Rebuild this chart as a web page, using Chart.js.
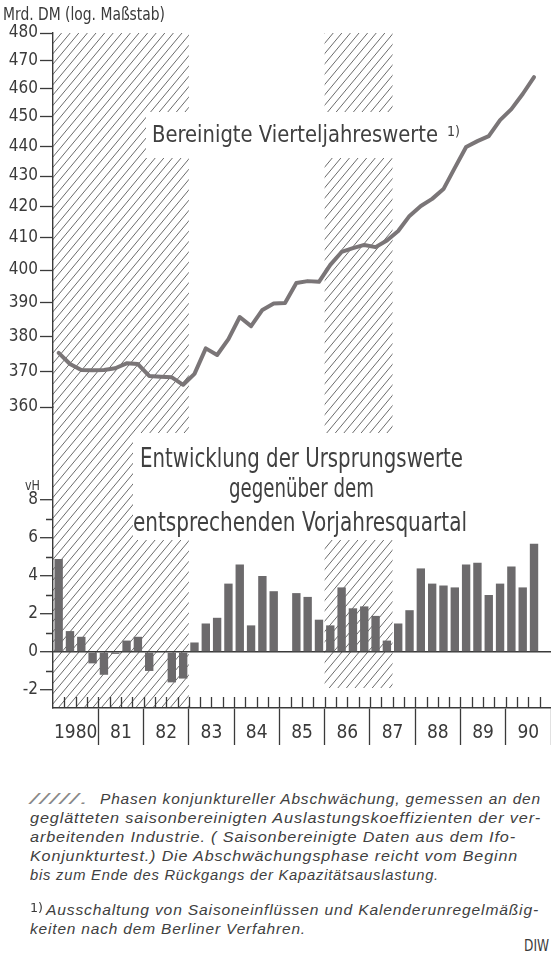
<!DOCTYPE html>
<html>
<head>
<meta charset="utf-8">
<script src="https://cdn.jsdelivr.net/npm/chart.js@4.4.1/dist/chart.umd.min.js"></script>
<style>
  html, body { margin: 0; padding: 0; background: #fff; }
  body { width: 551px; height: 956px; position: relative; overflow: hidden; color: #3a3a3a;
         font-family: "DejaVu Sans Condensed", "Liberation Sans Narrow", "Liberation Sans", sans-serif; }
  #wrap { position: absolute; left: 0; top: 0; width: 551px; height: 760px; }
  .t { position: absolute; white-space: nowrap; line-height: 1; transform-origin: 0 0; }
  .note { font-family: "Liberation Sans", sans-serif; font-style: italic; font-size: 15px; letter-spacing: 0.8px; color: #404040; }
</style>
</head>
<body>
<div id="wrap"><canvas id="chart" width="551" height="760"></canvas></div>

<div class="t" style="font-size:17px" data-x="3" data-b="20" data-w="162">Mrd. DM (log. Maßstab)</div>
<div class="t" style="font-size:14px" data-x="25" data-b="490" data-w="15">vH</div>

<div class="t note" style="color:#888" data-x="30" data-b="804" data-w="60">/////.</div>
<div class="t note" data-x="100" data-b="804" data-w="441">Phasen konjunktureller Abschwächung, gemessen an den</div>
<div class="t note" data-x="30" data-b="823" data-w="511">geglätteten saisonbereinigten Auslastungskoeffizienten der ver-</div>
<div class="t note" data-x="30" data-b="842" data-w="486">arbeitenden Industrie. ( Saisonbereinigte Daten aus dem Ifo-</div>
<div class="t note" data-x="30" data-b="861" data-w="488">Konjunkturtest.) Die Abschwächungsphase reicht vom Beginn</div>
<div class="t note" data-x="30" data-b="880" data-w="409">bis zum Ende des Rückgangs der Kapazitätsauslastung.</div>
<div class="t" style="font-size:13px" data-x="30" data-b="912" data-w="13">1)</div>
<div class="t note" data-x="46" data-b="915" data-w="493">Ausschaltung von Saisoneinflüssen und Kalenderunregelmäßig-</div>
<div class="t note" data-x="30" data-b="934" data-w="276">keiten nach dem Berliner Verfahren.</div>
<div class="t" style="font-size:16px" data-x="524" data-b="952" data-w="25">DIW</div>

<script>
// Jahre und Quartale
const years = ['1980', '81', '82', '83', '84', '85', '86', '87', '88', '89', '90'];
const quarterNames = ['I', 'II', 'III', 'IV'];

// Bereinigte Vierteljahreswerte, Mrd. DM (1980 I - 1990 III)
const gdpValues = [
  375.3, 372.1, 370.4, 370.3,
  370.4, 370.9, 372.3, 372.1,
  368.7, 368.5, 368.3, 366.2,
  369.3, 376.6, 374.7, 379.3,
  385.8, 383.1, 387.9, 389.8,
  390.0, 396.0, 396.6, 396.4,
  401.6, 405.6, 406.8, 407.8,
  407.1, 409.2, 412.2, 417.0,
  420.2, 422.5, 425.7, 432.7,
  439.7, 441.7, 443.4, 448.9,
  452.7, 458.0, 464.0
];

// Veraenderung gegenueber Vorjahresquartal, vH
const changeValues = [
  4.9, 1.1, 0.8, -0.6,
  -1.2, -0.1, 0.6, 0.8,
  -1.0, 0, -1.6, -1.4,
  0.5, 1.5, 1.8, 3.6,
  4.6, 1.4, 4.0, 3.2,
  0, 3.1, 2.9, 1.7,
  1.4, 3.4, 2.3, 2.4,
  1.9, 0.6, 1.5, 2.2,
  4.4, 3.6, 3.5, 3.4,
  4.6, 4.7, 3.0, 3.6,
  4.5, 3.4, 5.7
];

// Achsenbeschriftung
const logTicks = [360, 370, 380, 390, 400, 410, 420, 430, 440, 450, 460, 470, 480];
const pctTicks = [-2, 0, 2, 4, 6, 8];
const pctMinorTicks = [-1, 1, 3, 5, 7];

// Phasen konjunktureller Abschwaechung (erstes bis letztes Quartal)
const weakPhases = [['1980 I', '1982 IV'], ['1986 I', '1987 II']];

const labels = [];
years.forEach(y => quarterNames.forEach(q => labels.push((y.length === 2 ? '19' + y : y) + ' ' + q)));

const FONT = '"DejaVu Sans Condensed", "Liberation Sans Narrow", "Liberation Sans", sans-serif';
const INK = '#3a3a3a';

function fitText(ctx, str, x, y, size, width) {
  ctx.font = size + 'px ' + FONT;
  const w = ctx.measureText(str).width;
  ctx.save();
  ctx.translate(x, y);
  ctx.scale(width / w, 1);
  ctx.fillText(str, 0, 0);
  ctx.restore();
}

const decor = {
  id: 'decor',
  beforeDraw(chart) {
    const { ctx, chartArea: a, scales: { x, yb } } = chart;
    const half = (x.getPixelForValue(1) - x.getPixelForValue(0)) / 2;

    // schraffierte Phasen
    weakPhases.forEach((p, k) => {
      const l = x.getPixelForValue(labels.indexOf(p[0])) - half;
      const r = x.getPixelForValue(labels.indexOf(p[1])) + half;
      const b = k === 0 ? a.bottom : yb.getPixelForValue(-1.9);
      const run = (b - a.top) / 1.2;
      ctx.save();
      ctx.beginPath();
      ctx.rect(l, a.top, r - l, b - a.top);
      ctx.clip();
      ctx.strokeStyle = '#5a5a5a';
      ctx.lineWidth = 0.9;
      ctx.beginPath();
      for (let sx = l - run; sx < r + 2; sx += 8.6) {
        ctx.moveTo(sx, b);
        ctx.lineTo(sx + run, a.top);
      }
      ctx.stroke();
      ctx.restore();
    });

    // Textfelder
    ctx.fillStyle = '#fff';
    ctx.fillRect(146, 112, 322, 46);
    ctx.fillRect(133, 433, 338, 107);

    ctx.fillStyle = '#404040';
    ctx.textBaseline = 'alphabetic';
    fitText(ctx, 'Bereinigte Vierteljahreswerte', 152, 142, 23, 286);
    fitText(ctx, '1)', 447, 136, 14, 13);
    fitText(ctx, 'Entwicklung der Ursprungswerte', 140, 467, 26, 323);
    fitText(ctx, 'gegenüber dem', 229, 497, 26, 145);
    fitText(ctx, 'entsprechenden Vorjahresquartal', 133, 531, 26, 334);
  },
  afterDraw(chart) {
    const { ctx, chartArea: a, scales: { x, yb } } = chart;
    const half = (x.getPixelForValue(1) - x.getPixelForValue(0)) / 2;
    ctx.save();
    ctx.strokeStyle = INK;
    ctx.lineWidth = 1.3;
    ctx.beginPath();
    // kurze Quartalsstriche
    for (let i = 1; i < labels.length; i++) {
      const px = Math.round(x.getPixelForValue(i) - half) + 0.5;
      ctx.moveTo(px, a.bottom - 11);
      ctx.lineTo(px, a.bottom);
    }
    // Zwischenstriche der vH-Achse
    pctMinorTicks.forEach(v => {
      const py = Math.round(yb.getPixelForValue(v)) + 0.5;
      ctx.moveTo(a.left - 7, py);
      ctx.lineTo(a.left, py);
    });
    ctx.stroke();
    ctx.restore();
  }
};

const lineData = gdpValues.concat(new Array(labels.length - gdpValues.length).fill(null));
const barData = changeValues.concat(new Array(labels.length - changeValues.length).fill(null));

new Chart(document.getElementById('chart').getContext('2d'), {
  type: 'bar',
  data: {
    labels: labels,
    datasets: [
      {
        type: 'line',
        data: lineData,
        yAxisID: 'yl',
        borderColor: '#7a7577',
        borderWidth: 4,
        pointRadius: 0,
        tension: 0,
        borderJoinStyle: 'round',
        borderCapStyle: 'round'
      },
      {
        type: 'bar',
        data: barData,
        yAxisID: 'yb',
        backgroundColor: '#6c6a6c',
        categoryPercentage: 1,
        barPercentage: 0.74
      }
    ]
  },
  options: {
    responsive: false,
    animation: false,
    devicePixelRatio: 1,
    layout: { padding: { top: 33, left: 0, right: 0, bottom: 0 } },
    plugins: { legend: { display: false }, tooltip: { enabled: false } },
    scales: {
      x: {
        type: 'category',
        offset: true,
        afterFit: s => { s.height = 52; },
        border: { color: INK, width: 1.6 },
        grid: {
          offset: true,
          drawOnChartArea: false,
          tickLength: 37,
          tickWidth: 1.3,
          tickColor: c => (c.index === undefined || (c.index > 0 && c.index % 4 === 0)) ? INK : 'rgba(0,0,0,0)'
        },
        ticks: {
          autoSkip: false,
          maxRotation: 0,
          labelOffset: 5.66,
          padding: -23,
          color: INK,
          font: { size: 19, family: FONT },
          callback: (v, i) => (i % 4 === 1 ? years[i >> 2] : '')
        }
      },
      yb: {
        type: 'linear',
        position: 'left',
        stack: 'v',
        stackWeight: 301,
        weight: 0,
        min: -2.95,
        max: 12.9,
        afterBuildTicks: s => { s.ticks = pctTicks.map(v => ({ value: v })); },
        afterFit: s => { s.width = 53; },
        border: { color: INK, width: 1.4 },
        grid: {
          drawOnChartArea: true,
          color: c => (c.tick && c.tick.value === 0 ? INK : 'rgba(0,0,0,0)'),
          lineWidth: 1.4,
          tickColor: INK,
          tickLength: 13,
          tickWidth: 1.3
        },
        ticks: { autoSkip: false, color: INK, padding: 2, font: { size: 17, family: FONT }, callback: v => String(v) }
      },
      yl: {
        type: 'logarithmic',
        position: 'left',
        stack: 'v',
        stackWeight: 374,
        weight: 1,
        min: 360,
        max: 480,
        afterBuildTicks: s => { s.ticks = logTicks.map(v => ({ value: v })); },
        afterFit: s => { s.width = 53; },
        border: { color: INK, width: 1.4 },
        grid: { drawOnChartArea: false, tickColor: INK, tickLength: 13, tickWidth: 1.3 },
        ticks: { autoSkip: false, color: INK, padding: 2, font: { size: 17, family: FONT }, callback: v => String(v) }
      }
    }
  },
  plugins: [decor]
});

// HTML-Texte auf Breite und Grundlinie setzen
document.querySelectorAll('[data-w]').forEach(el => {
  const fs = parseFloat(getComputedStyle(el).fontSize);
  el.style.left = el.dataset.x + 'px';
  el.style.top = (+el.dataset.b - 0.846 * fs) + 'px';
  const w = el.getBoundingClientRect().width;
  el.style.transform = 'scaleX(' + (+el.dataset.w / w) + ')';
});
</script>
</body>
</html>
